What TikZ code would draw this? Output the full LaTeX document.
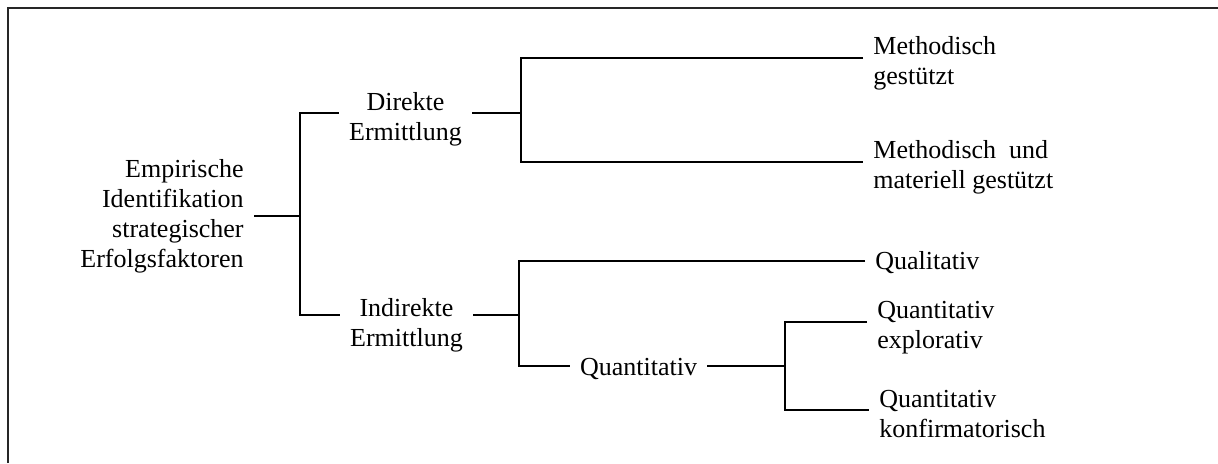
\documentclass[tikz,border=0pt]{standalone}
\usepackage{fontspec}
\setmainfont{Liberation Serif}
\usepackage{tikz}
\usetikzlibrary{positioning}

\begin{document}
\begin{tikzpicture}[
    x=0.5pt, y=-0.5pt,
    frame/.style={black!85, line width=1.1pt},
    link/.style={black, line width=0.9pt},
    term/.style={font=\fontsize{13}{15}\selectfont, inner xsep=5pt, inner ysep=0pt},
    leaf/.style={term, anchor=west, align=left}
]
\useasboundingbox (0,0) rectangle (1218,463);

% Rahmen (rechts und unten abgeschnitten)
\draw[frame] (8,463) -- (8,8) -- (1218,8);

% Knoten
\node[term, anchor=east, align=right] (root) at (254,216)
    {Empirische\\Identifikation\\strategischer\\Erfolgsfaktoren};
\node[term, align=center] (dir) at (405.5,119) {Direkte\\Ermittlung};
\node[term, align=center] (ind) at (406.5,325) {Indirekte\\Ermittlung};
\node[leaf] (mg) at (863,63) {Methodisch\\gestützt};
\node[leaf] (mmg) at (863,167) {Methodisch\ \ und\\materiell gestützt};
\node[leaf] (qual) at (865,263) {Qualitativ};
\node[term] (quant) at (638.5,369) {Quantitativ};
\node[leaf] (qexp) at (867,328) {Quantitativ\\explorativ};
\node[leaf] (qkonf) at (869,414) {Quantitativ\\konfirmatorisch};

% Verzweigungspunkte
\coordinate (j0) at (300,216);
\coordinate (jd) at (521,113);
\coordinate (ji) at (519,315);
\coordinate (jq) at (785,366);

% Verbindungen
\draw[link] (root.east) -- (j0);
\draw[link] ([yshift=3pt]dir.west) -| (j0) |- ([yshift=5pt]ind.west);
\draw[link] ([yshift=3pt]dir.east) -- (jd);
\draw[link] ([yshift=2.5pt]mg.west) -| (jd) |- ([yshift=2.5pt]mmg.west);
\draw[link] ([yshift=5pt]ind.east) -- (ji);
\draw[link] ([yshift=1pt]qual.west) -| (ji) |- ([yshift=1.5pt]quant.west);
\draw[link] ([yshift=1.5pt]quant.east) -- (jq);
\draw[link] ([yshift=3pt]qexp.west) -| (jq) |- ([yshift=2pt]qkonf.west);

\end{tikzpicture}
\end{document}
